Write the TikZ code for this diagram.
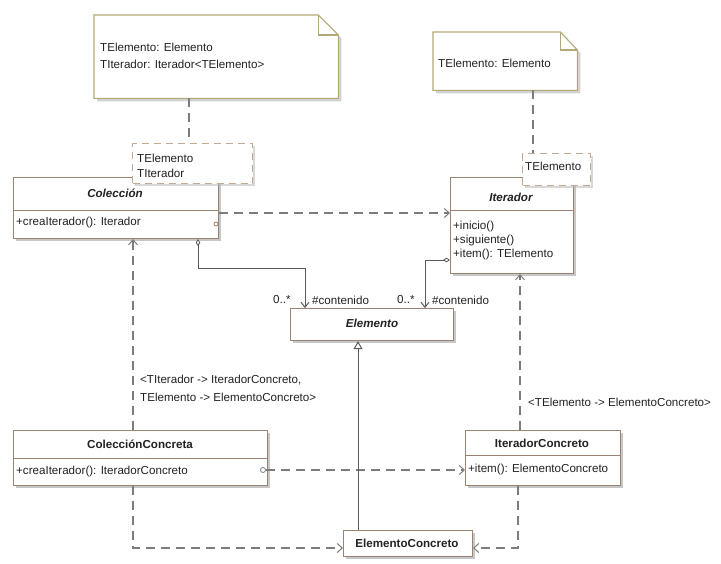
\documentclass[tikz,border=0pt]{standalone}
\usepackage{fontspec}
\setmainfont{Liberation Sans}
\usetikzlibrary{arrows.meta,shadows,calc}
\definecolor{boxc}{HTML}{9C8270}
\definecolor{notec}{HTML}{B4A878}
\definecolor{tmplc}{HTML}{C4AA92}
\definecolor{linec}{HTML}{5A5A5A}
\definecolor{dashc}{HTML}{7C7C7C}
\definecolor{txt}{HTML}{222222}

\begin{document}
\begin{tikzpicture}[x=1pt,y=-1pt,
  font=\fontsize{11.6}{13}\selectfont, text=txt,
  classbox/.style={draw=boxc, fill=white, line width=1.1pt, inner sep=0pt, anchor=north west,
    drop shadow={shadow xshift=2.5pt, shadow yshift=-2.5pt, fill=black!40, opacity=0.55}},
  tmplbox/.style={draw=tmplc, fill=white, line width=1.1pt, dash pattern=on 7pt off 5pt,
    inner sep=0pt, anchor=north west,
    drop shadow={shadow xshift=2pt, shadow yshift=-2pt, fill=black!30, opacity=0.5}},
  notearea/.style={inner sep=0pt, anchor=north west},
  notepath/.style={draw=notec, fill=white, line width=1.1pt,
    drop shadow={shadow xshift=3pt, shadow yshift=-3pt, fill=black!35, opacity=0.5}},
  sep/.style={draw=boxc, line width=1pt},
  txtl/.style={anchor=west, inner sep=0pt},
  title/.style={inner sep=0pt, font=\fontsize{11.6}{13}\selectfont\bfseries},
  ititle/.style={inner sep=0pt, font=\fontsize{11.6}{13}\selectfont\bfseries\itshape},
  dep/.style={draw=dashc, line width=1.2pt, dash pattern=on 9pt off 6pt,
    -{Straight Barb[length=5pt,width=9pt,line width=1pt]}},
  tie/.style={draw=dashc, line width=1.2pt, dash pattern=on 9pt off 6pt},
  assoc/.style={draw=linec, line width=1pt,
    {Diamond[open,length=7pt,width=4.5pt,line width=0.8pt]}-{Straight Barb[length=5pt,width=8pt,line width=1pt]}},
  genl/.style={draw=linec, line width=1pt, -{Triangle[open,length=8pt,width=9pt,line width=1pt]}}
]
\useasboundingbox[fill=white] (0,0) rectangle (721,563);

% ---------- classes ----------
\node[classbox, minimum width=205pt, minimum height=61pt] (col) at (13,177) {};
\draw[sep] (13,210) -- (218,210);
\node[ititle] (colT) at (115,193) {Colección};
\node[txtl] (colM) at (16,222) {+creaIterador(): Iterador};

\node[classbox, minimum width=123pt, minimum height=96pt] (itr) at (450,177) {};
\draw[sep] (450,210) -- (573,210);
\node[ititle] (itrT) at (511,197) {Iterador};
\node[txtl] (itrM1) at (453,226) {+inicio()};
\node[txtl] (itrM2) at (453,240) {+siguiente()};
\node[txtl] (itrM3) at (453,254) {+item(): TElemento};

\node[classbox, minimum width=163pt, minimum height=32pt] (ele) at (290,308) {};
\node[ititle] (eleT) at (372,323) {Elemento};

\node[classbox, minimum width=254pt, minimum height=55pt] (colc) at (13,430) {};
\draw[sep] (13,458) -- (267,458);
\node[title] (colcT) at (140,444) {ColecciónConcreta};
\node[txtl] (colcM) at (16,471) {+creaIterador(): IteradorConcreto};

\node[classbox, minimum width=155pt, minimum height=55pt] (itrc) at (465,430) {};
\draw[sep] (465,455) -- (620,455);
\node[title] (itrcT) at (542,443) {IteradorConcreto};
\node[txtl] (itrcM) at (468,469) {+item(): ElementoConcreto};

\node[classbox, minimum width=129pt, minimum height=26pt] (elec) at (343,530) {};
\node[title] (elecT) at (407,543) {ElementoConcreto};

% ---------- notes ----------
\node[notearea, minimum width=244pt, minimum height=83pt] (note1) at (94,15) {};
\path[notepath] (note1.north west) -- ($(note1.north east)+(-20,0)$) -- ($(note1.north east)+(0,20)$)
  -- (note1.south east) -- (note1.south west) -- cycle;
\draw[notec, line width=1.1pt] ($(note1.north east)+(-20,0)$) -- ($(note1.north east)+(-20,20)$) -- ($(note1.north east)+(0,20)$);
\node[txtl] (note1a) at (100,47) {TElemento: Elemento};
\node[txtl] (note1b) at (100,64) {TIterador: Iterador<TElemento>};

\node[notearea, minimum width=144pt, minimum height=58pt] (note2) at (433,32) {};
\path[notepath] (note2.north west) -- ($(note2.north east)+(-17,0)$) -- ($(note2.north east)+(0,18)$)
  -- (note2.south east) -- (note2.south west) -- cycle;
\draw[notec, line width=1.1pt] ($(note2.north east)+(-17,0)$) -- ($(note2.north east)+(-17,18)$) -- ($(note2.north east)+(0,18)$);
\node[txtl] (note2a) at (438,63) {TElemento: Elemento};

% ---------- template parameter boxes ----------
\node[tmplbox, minimum width=120pt, minimum height=40pt] (tp1) at (132,143) {};
\node[txtl] (tp1a) at (137,158) {TElemento};
\node[txtl] (tp1b) at (137,173) {TIterador};

\node[tmplbox, minimum width=68pt, minimum height=32pt] (tp2) at (522,153) {};
\node[txtl] (tp2a) at (525,166) {TElemento};

% note anchors
\coordinate (x1) at (189,0);
\coordinate (x2) at (533,0);
\draw[tie] (note1.south -| x1) -- (tp1.north -| x1);
\draw[tie] (note2.south -| x2) -- (tp2.north -| x2);

% ---------- dependencies ----------
\coordinate (yd1) at (0,213);
\draw[dep] (col.east |- yd1) -- (itr.west |- yd1);
\node[draw=boxc, line width=0.8pt, fill=white, circle, inner sep=0pt, minimum size=4pt] (colo) at (216,224) {};

\coordinate (yd2) at (0,470);
\node[draw=dashc, line width=0.8pt, fill=white, circle, inner sep=0pt, minimum size=5pt] (colco) at (263,470) {};
\draw[dep] (colco.east) -- (itrc.west |- yd2);

% realizations (template binding)
\coordinate (xb1) at (133,0);
\coordinate (xb2) at (520,0);
\draw[dep] (colc.north -| xb1) -- (col.south -| xb1);
\draw[dep] (itrc.north -| xb2) -- (itr.south -| xb2);
\node[txtl] (bind1a) at (140,380) {<TIterador -> IteradorConcreto,};
\node[txtl] (bind1b) at (140,397) {TElemento -> ElementoConcreto>};
\node[txtl] (bind2) at (528,402) {<TElemento -> ElementoConcreto>};

% uses of ElementoConcreto
\coordinate (yb) at (0,548);
\coordinate (xb3) at (518,0);
\draw[dep] (colc.south -| xb1) -- (xb1 |- yb) -- (elec.west |- yb);
\draw[dep] (itrc.south -| xb3) -- (xb3 |- yb) -- (elec.east |- yb);

% ---------- associations ----------
\coordinate (xa1) at (198,0);
\coordinate (xa2) at (305,0);
\coordinate (ya1) at (0,268);
\draw[assoc] (col.south -| xa1) -- (xa1 |- ya1) -- (xa2 |- ya1) -- (ele.north -| xa2);
\coordinate (xa3) at (425,0);
\coordinate (ya2) at (0,260);
\draw[assoc] (itr.west |- ya2) -- (xa3 |- ya2) -- (ele.north -| xa3);
\node[txtl] (m1) at (273,300) {0..*};
\node[txtl] (r1) at (312,300) {\#contenido};
\node[txtl] (m2) at (397,300) {0..*};
\node[txtl] (r2) at (432,300) {\#contenido};

% ---------- generalization ----------
\coordinate (xg) at (358,0);
\draw[genl] (elec.north -| xg) -- (ele.south -| xg);
\end{tikzpicture}
\end{document}
